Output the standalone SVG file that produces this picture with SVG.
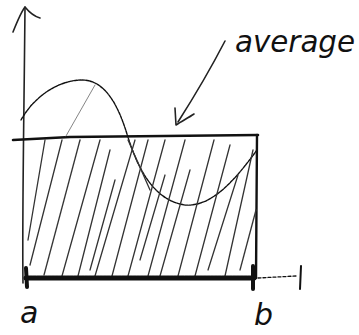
<svg xmlns="http://www.w3.org/2000/svg" width="359" height="335" viewBox="0 0 359 335">
<style>
.ink{fill:none;stroke:#111;stroke-linecap:round;stroke-linejoin:round}
.pen{fill:none;stroke:#222;stroke-width:1.6;stroke-linecap:round;stroke-linejoin:round}
.hatch{fill:none;stroke:#333;stroke-width:1.3;stroke-linecap:round}
.faint{fill:none;stroke:#777;stroke-width:0.9;stroke-linecap:round}
.lbl{font-family:"DejaVu Sans","Liberation Sans",sans-serif;font-style:italic;fill:#111}
</style>
<rect width="359" height="335" fill="#fff"/>
<g id="axis">
<path class="pen" d="M23,283 C22,220 24,120 25,7"/>
<path class="pen" d="M13,32 C17,22 21,12 25,7 C29,12 33,16 40,18"/>
</g>
<g id="curve">
<path class="ink" stroke-width="1.4" stroke-dasharray="3 1" d="M21,120 C35,95 60,80 82,80 C105,80 118,105 127,134 C135,160 150,200 185,205 C212,207 235,180 257,150"/>
</g>
<g id="average">
<path class="ink" stroke-width="2.6" d="M13,140 L70,137 L258,135"/>
<path class="ink" stroke-width="2.4" d="M257,135 L256,278"/>
</g>
<g id="hatching">
<path class="hatch" d="M28,240 L45,140"/>
<path class="hatch" d="M30,265 L62,140"/>
<path class="hatch" d="M44,275 L80,140"/>
<path class="hatch" d="M62,276 L100,140"/>
<path class="faint" d="M66,136 L95,85"/>
<path class="hatch" d="M78,276 L110,150"/>
<path class="hatch" d="M90,270 L115,180"/>
<path class="hatch" d="M95,276 L135,140"/>
<path class="hatch" d="M112,276 L148,140"/>
<path class="hatch" d="M128,276 L165,140"/>
<path class="hatch" d="M140,260 L165,175"/>
<path class="hatch" d="M148,276 L185,140"/>
<path class="hatch" d="M160,276 L190,170"/>
<path class="hatch" d="M178,276 L214,140"/>
<path class="hatch" d="M195,276 L230,145"/>
<path class="hatch" d="M208,270 L238,175"/>
<path class="hatch" d="M225,276 L253,150"/>
<path class="hatch" d="M240,270 L256,210"/>
<path class="hatch" d="M128,140 L150,190"/>
</g>
<g id="base">
<path class="ink" stroke-width="5" stroke-dasharray="2.5 1.2" d="M26,278 L254,278"/>
<path class="ink" stroke-width="4" d="M26,268 L27,287"/>
<path class="ink" stroke-width="4" d="M253,266 L253,289"/>
<path class="ink" stroke-width="1.3" stroke-dasharray="3 2" d="M258,278 L296,276"/>
<path class="ink" stroke-width="2" d="M301,266 L300,289"/>
</g>
<g id="pointer">
<path class="pen" d="M225,41 C210,70 192,100 178,122"/>
<path class="pen" stroke-width="2" d="M175,108 L176,125 C182,121 188,118 194,114"/>
</g>
<text class="lbl" x="235" y="52" font-size="30" textLength="120" lengthAdjust="spacingAndGlyphs">average</text>
<text class="lbl" x="20" y="323" font-size="30">a</text>
<text class="lbl" x="254" y="325" font-size="30">b</text>
</svg>
